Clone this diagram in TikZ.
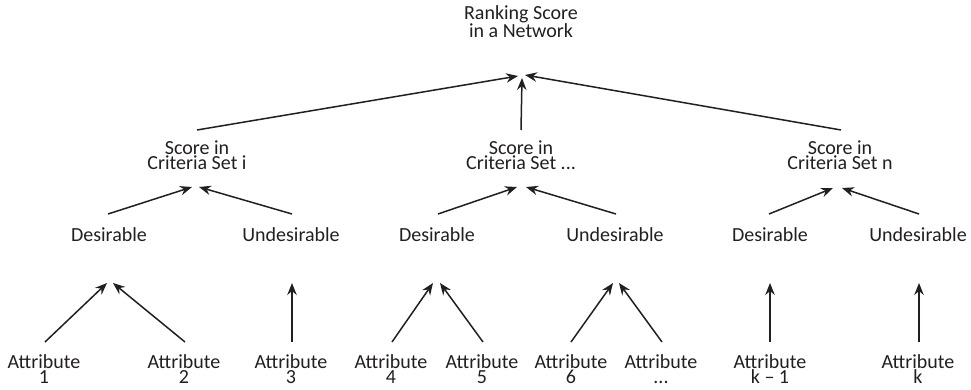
\documentclass[tikz,border=0pt]{standalone}
\usepackage{fontspec}
\setmainfont{Carlito}
\usetikzlibrary{arrows.meta,calc}
\definecolor{ink}{HTML}{231F20}
\begin{document}
\begin{tikzpicture}[x=1pt,y=-1pt,
  lbl/.style={font=\fontsize{20}{15}\selectfont, align=center, inner sep=0pt,
              outer sep=0pt, anchor=base, text=ink},
  arr/.style={-{Stealth[length=12pt,width=9.5pt,inset=4pt]}, line width=1.5pt, draw=ink}]
\useasboundingbox (0,0) rectangle (971,390);

% overall score (base anchor = baseline of the last line)
\node[lbl] (top) at (521,38) {Ranking Score\\in a Network};

% criteria sets
\node[lbl] (c1) at (197,170) {Score in\\Criteria Set i};
\node[lbl] (c2) at (521,170) {Score in\\Criteria Set ...};
\node[lbl] (c3) at (840,170) {Score in\\Criteria Set n};

% desirable / undesirable groups
\node[lbl] (d1) at (109,241) {Desirable};
\node[lbl] (u1) at (291,241) {Undesirable};
\node[lbl] (d2) at (437,241) {Desirable};
\node[lbl] (u2) at (615,241) {Undesirable};
\node[lbl] (d3) at (770,241) {Desirable};
\node[lbl] (u3) at (918,241) {Undesirable};

% attributes
\node[lbl] (a1) at (44,383)  {Attribute\\1};
\node[lbl] (a2) at (184,383) {Attribute\\2};
\node[lbl] (a3) at (291,383) {Attribute\\3};
\node[lbl] (a4) at (391,383) {Attribute\\4};
\node[lbl] (a5) at (482,383) {Attribute\\5};
\node[lbl] (a6) at (571,383) {Attribute\\6};
\node[lbl] (a7) at (661,383) {Attribute\\...};
\node[lbl] (a8) at (770,383) {Attribute\\k -- 1};
\node[lbl] (a9) at (918,383) {Attribute\\k};

% attributes feed their group
\draw[arr] ($(a1.base)+(1,-41)$) -- ($(d1.base)+(-2,42)$);
\draw[arr] ($(a2.base)+(1,-41)$) -- ($(d1.base)+(4,42)$);
\draw[arr] ($(a3.base)+(1,-41)$) -- ($(u1.base)+(1,42)$);
\draw[arr] ($(a4.base)+(1,-41)$) -- ($(d2.base)+(-4,42)$);
\draw[arr] ($(a5.base)+(1,-41)$) -- ($(d2.base)+(3,42)$);
\draw[arr] ($(a6.base)+(0,-41)$) -- ($(u2.base)+(-2,42)$);
\draw[arr] ($(a7.base)+(1,-41)$) -- ($(u2.base)+(4,42)$);
\draw[arr] ($(a8.base)+(0,-41)$) -- ($(d3.base)+(0,42)$);
\draw[arr] ($(a9.base)+(1,-41)$) -- ($(u3.base)+(1,42)$);

% groups feed their criteria set
\draw[arr] ($(d1.base)+(-1,-27)$) -- ($(c1.base)+(-5,17)$);
\draw[arr] ($(u1.base)+(1,-27)$)  -- ($(c1.base)+(2,17)$);
\draw[arr] ($(d2.base)+(1,-27)$)  -- ($(c2.base)+(-4,17)$);
\draw[arr] ($(u2.base)+(1,-27)$)  -- ($(c2.base)+(5,17)$);
\draw[arr] ($(d3.base)+(-1,-27)$) -- ($(c3.base)+(-7,18)$);
\draw[arr] ($(u3.base)+(1,-27)$)  -- ($(c3.base)+(2,18)$);

% criteria sets feed the overall score
\draw[arr] ($(c1.base)+(0,-40)$) -- ($(top.base)+(-3,38)$);
\draw[arr] ($(c2.base)+(0,-40)$) -- ($(top.base)+(1,40)$);
\draw[arr] ($(c3.base)+(1,-40)$) -- ($(top.base)+(4,37)$);
\end{tikzpicture}
\end{document}
